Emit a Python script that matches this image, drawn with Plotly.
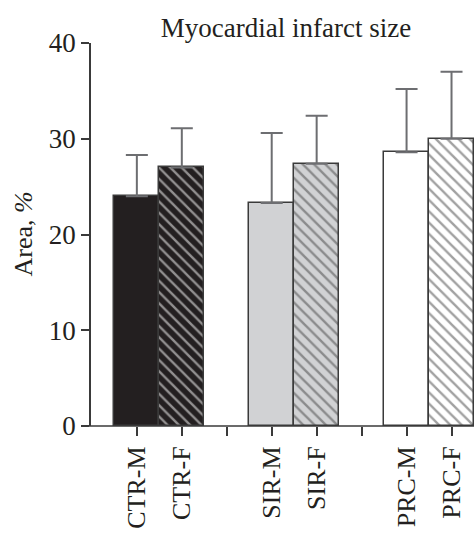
import plotly.graph_objects as go

categories = ["CTR-M", "CTR-F", " ", "SIR-M", "SIR-F", "  ", "PRC-M", "PRC-F"]
bar_labels = ["CTR-M", "CTR-F", "SIR-M", "SIR-F", "PRC-M", "PRC-F"]
means = [24.0, 27.0, 23.3, 27.4, 28.6, 30.0]
err_upper = [4.3, 4.1, 7.3, 5.0, 6.6, 7.0]
fill_colors = ["#231f20", "#231f20", "#d1d2d4", "#d1d2d4", "#ffffff", "#ffffff"]
hatch = ["", "\\", "", "\\", "", "\\"]
hatch_colors = ["#8c8c8c", "#8c8c8c", "#6d6e71", "#6d6e71", "#6d6e71", "#6d6e71"]
y_ticks = [0, 10, 20, 30, 40]

FONT = "Liberation Serif"
INK = "#231f20"

fig = go.Figure()
fig.add_trace(go.Bar(
    x=bar_labels,
    y=means,
    width=1.0,
    marker=dict(
        color=fill_colors,
        line=dict(color="#3a3a3a", width=1.5),
        pattern=dict(shape=hatch, fgcolor=hatch_colors, bgcolor=fill_colors,
                     size=8, solidity=0.3),
    ),
    error_y=dict(type="data", symmetric=False, array=err_upper,
                 arrayminus=[0] * len(err_upper),
                 color="#6d6e71", thickness=2, width=11),
    showlegend=False,
    hoverinfo="skip",
))

fig.update_layout(
    width=474, height=533,
    margin=dict(l=91, r=0, t=43, b=107),
    plot_bgcolor="white", paper_bgcolor="white",
    bargap=0,
    font=dict(family=FONT, color=INK, size=27),
    title=dict(text="Myocardial infarct size", font=dict(family=FONT, size=27, color=INK),
               x=0.509, xref="paper", xanchor="center",
               y=1 - 28 / 533, yref="container", yanchor="middle"),
    xaxis=dict(type="category", categoryorder="array", categoryarray=categories,
               range=[-1.02, 7.5], showline=False, ticks="outside", ticklen=9,
               tickwidth=1.5, tickcolor="#3a3a3a", tickangle=-90,
               tickfont=dict(family=FONT, size=26, color=INK), automargin=False,
               showgrid=False, zeroline=False, fixedrange=True),
    yaxis=dict(range=[0, 40], tickvals=y_ticks, showline=True, linecolor="#3a3a3a",
               linewidth=1.5, ticks="outside", ticklen=8, tickwidth=1.5,
               tickcolor="#3a3a3a", tickfont=dict(family=FONT, size=27, color=INK),
               automargin=False,
               showgrid=False, zeroline=False, fixedrange=True),
    shapes=[dict(type="line", xref="paper", yref="paper", x0=-8 / 383, x1=1,
                 y0=0, y1=0, line=dict(color="#3a3a3a", width=1.5))],
    annotations=[dict(text="Area, <i>%</i>", xref="paper", yref="paper",
                      x=(23 - 91) / 383, y=0.5, xanchor="center", yanchor="middle",
                      textangle=-90, showarrow=False,
                      font=dict(family=FONT, size=26, color=INK))],
)

fig.write_html("out.html", config={"displayModeBar": False},
               post_script="document.body.style.margin='0';")
